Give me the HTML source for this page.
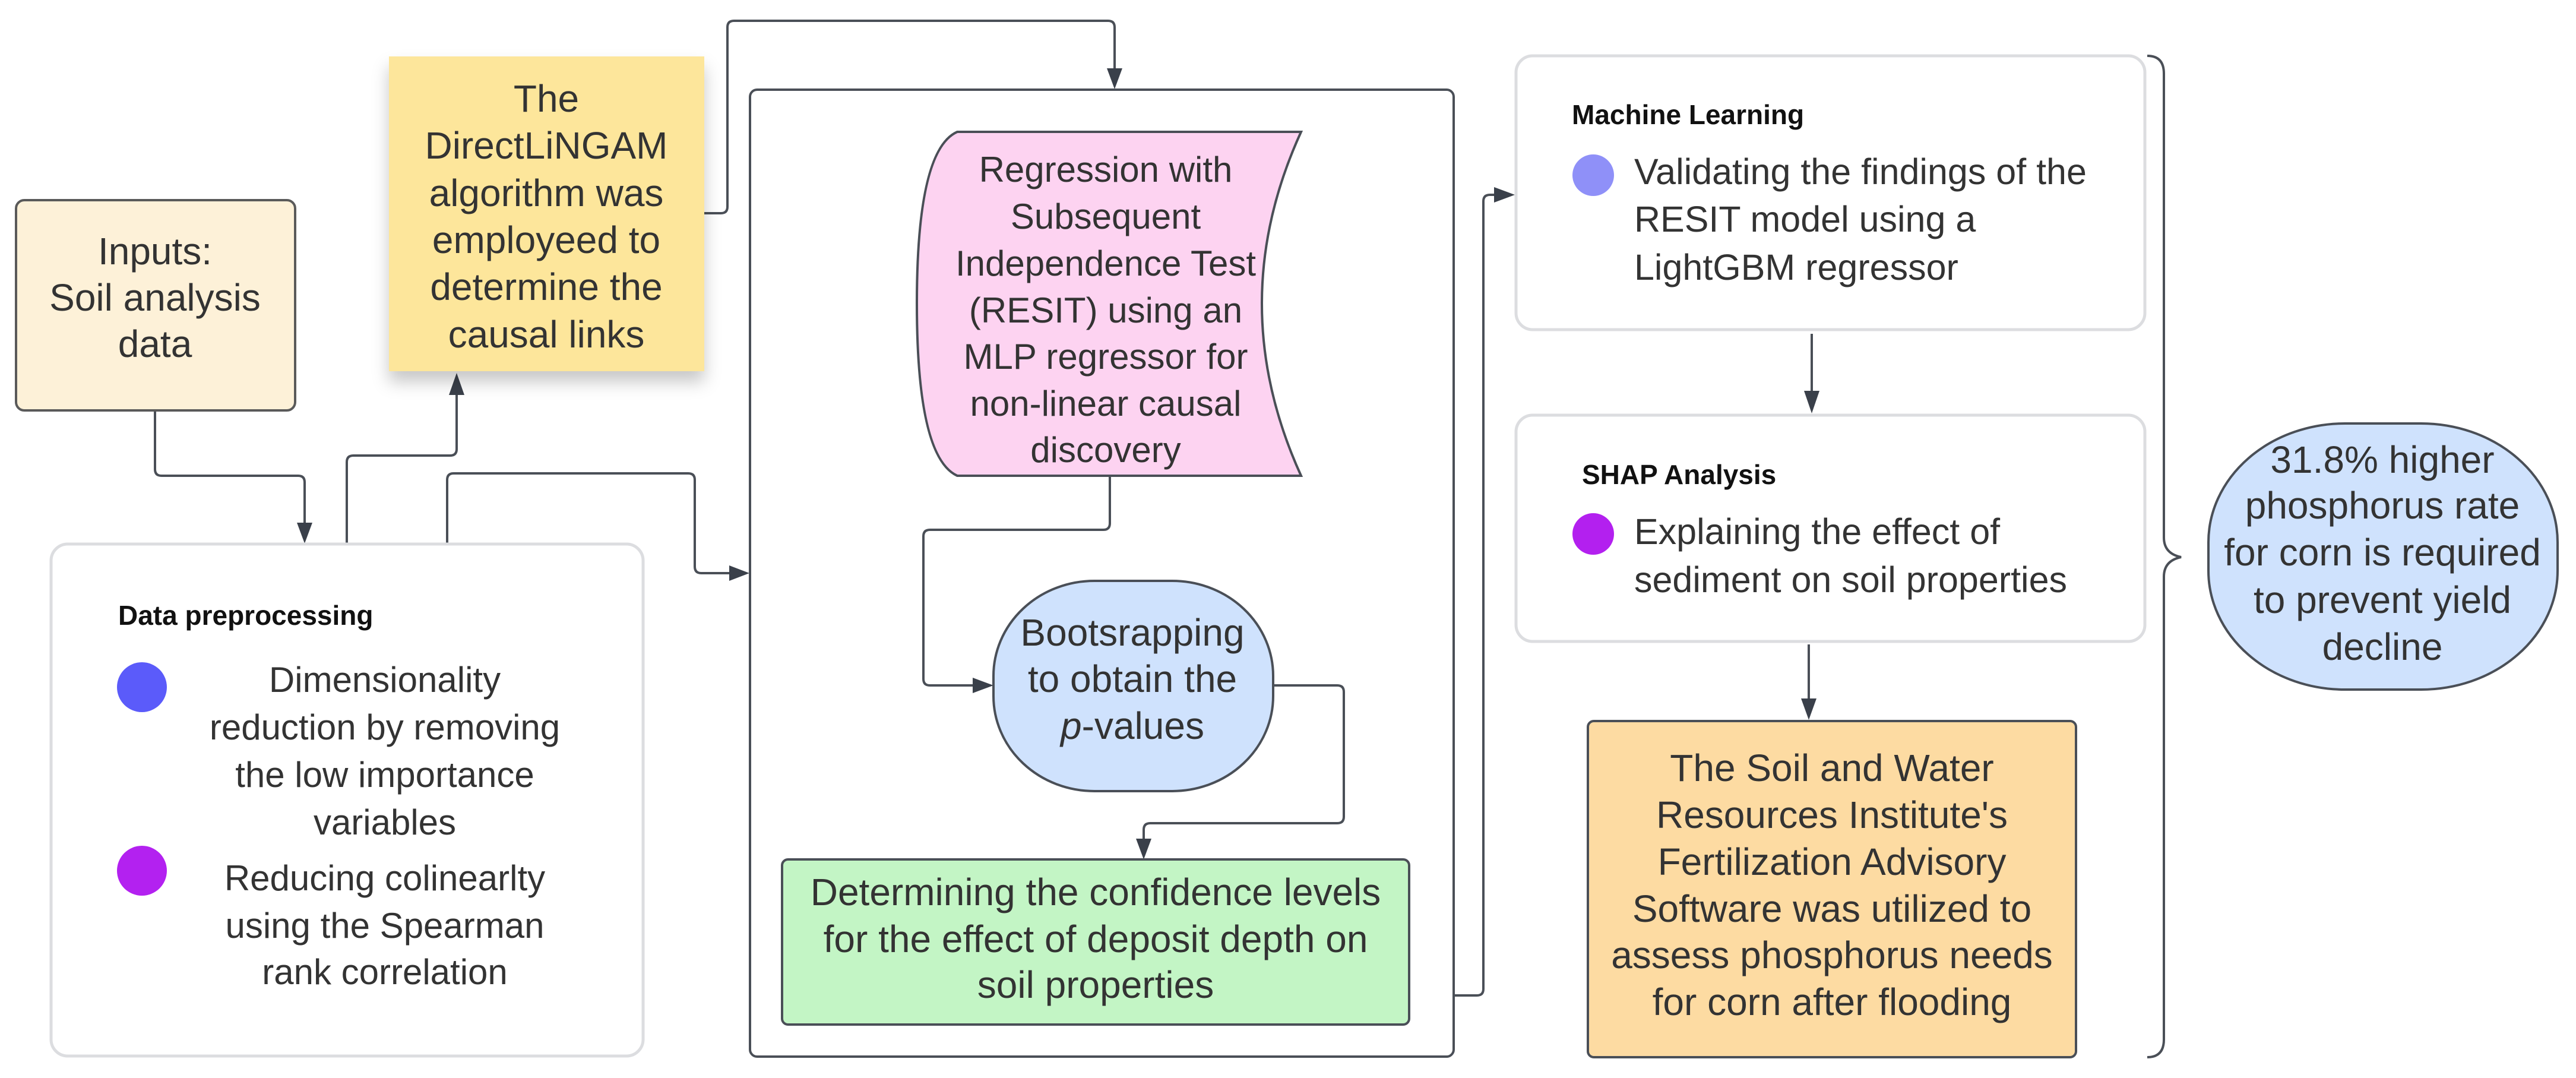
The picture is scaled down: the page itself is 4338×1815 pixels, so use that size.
<!DOCTYPE html>
<html><head><meta charset="utf-8"><style>
html,body{margin:0;padding:0;background:#fff;}
svg{display:block;}
text{font-family:"Liberation Sans",Arial,sans-serif;fill:#333;}
</style></head><body>
<svg width="4338" height="1815" viewBox="0 0 4338 1815" xmlns="http://www.w3.org/2000/svg">
<defs>
<filter id="sh" x="-20%" y="-20%" width="140%" height="150%"><feDropShadow dx="0" dy="18" stdDeviation="14" flood-color="#000" flood-opacity="0.22"/></filter>
</defs>
<g fill="none" stroke="#4a4f57" stroke-width="4" stroke-linejoin="round">
<path d="M261 691 V790 Q261 801 272 801 H502 Q513 801 513 812 V880"/>
<path d="M584 915 V778 Q584 767 595 767 H758 Q769 767 769 756 V665"/>
<path d="M753 915 V808 Q753 797 764 797 H1159 Q1170 797 1170 808 V954 Q1170 965 1181 965 H1228"/>
<path d="M1186 359 H1214 Q1225 359 1225 348 V46 Q1225 35 1236 35 H1866 Q1877 35 1877 46 V115"/>
<path d="M1869 801 V881 Q1869 892 1858 892 H1566 Q1555 892 1555 903 V1143 Q1555 1154 1566 1154 H1638"/>
<path d="M2144 1154 H2252 Q2263 1154 2263 1165 V1375 Q2263 1386 2252 1386 H1937 Q1926 1386 1926 1397 V1412"/>
<path d="M2448 1676 H2487 Q2498 1676 2498 1665 V339 Q2498 328 2509 328 H2516"/>
<path d="M3051 562 V660"/>
<path d="M3046 1085 V1176"/>
</g>
<g fill="#3a404a">
<polygon points="500,880 526,880 513,915"/>
<polygon points="756,665 782,665 769,628"/>
<polygon points="1228,952 1228,978 1262,965"/>
<polygon points="1864,115 1890,115 1877,150"/>
<polygon points="1638,1141 1638,1167 1673,1154"/>
<polygon points="1913,1412 1939,1412 1926,1447"/>
<polygon points="2516,315 2516,341 2551,328"/>
<polygon points="3038,658 3064,658 3051,696"/>
<polygon points="3033,1176 3059,1176 3046,1212"/>
</g>

<rect x="27" y="337" width="470" height="354" rx="14" fill="#fdf1d8" stroke="#5a5a5a" stroke-width="4"/>
<g font-size="64" text-anchor="middle">
<text x="261" y="445">Inputs:</text>
<text x="261" y="523">Soil analysis</text>
<text x="261" y="601">data</text>
</g>

<rect x="655" y="95" width="531" height="530" fill="#fde69b" filter="url(#sh)"/>
<g font-size="64" text-anchor="middle">
<text x="920" y="188">The</text>
<text x="920" y="267">DirectLiNGAM</text>
<text x="920" y="347">algorithm was</text>
<text x="920" y="426">employeed to</text>
<text x="920" y="505">determine the</text>
<text x="920" y="585">causal links</text>
</g>

<rect x="86" y="916" width="997" height="862" rx="28" fill="#fff" stroke="#dcdde0" stroke-width="5"/>
<text x="199" y="1052" font-size="46" font-weight="bold" style="fill:#111">Data preprocessing</text>
<circle cx="239" cy="1157" r="42" fill="#5b5bfa"/>
<circle cx="239" cy="1466" r="42" fill="#b321f0"/>
<g font-size="60" text-anchor="middle">
<text x="648" y="1165">Dimensionality</text>
<text x="648" y="1245">reduction by removing</text>
<text x="648" y="1325">the low importance</text>
<text x="648" y="1405">variables</text>
<text x="648" y="1499">Reducing colinearlty</text>
<text x="648" y="1579">using the Spearman</text>
<text x="648" y="1657">rank correlation</text>
</g>

<rect x="1263" y="151" width="1185" height="1628" rx="12" fill="none" stroke="#4a4f57" stroke-width="4"/>

<path d="M1612 222 H2191 Q2059 511 2191 801 H1612 Q1544 770 1544 511 Q1544 252 1612 222 Z" fill="#fdd3f1" stroke="#4a4f57" stroke-width="4"/>
<g font-size="60" text-anchor="middle">
<text x="1862" y="306">Regression with</text>
<text x="1862" y="385">Subsequent</text>
<text x="1862" y="464">Independence Test</text>
<text x="1862" y="543">(RESIT) using an</text>
<text x="1862" y="621">MLP regressor for</text>
<text x="1862" y="700">non-linear causal</text>
<text x="1862" y="778">discovery</text>
</g>

<rect x="1673" y="978" width="471" height="354" rx="170" ry="160" fill="#cfe2fd" stroke="#4a4f57" stroke-width="4"/>
<g font-size="64" text-anchor="middle">
<text x="1907" y="1087">Bootsrapping</text>
<text x="1907" y="1165">to obtain the</text>
<text x="1907" y="1244"><tspan font-style="italic">p</tspan>-values</text>
</g>

<rect x="1317" y="1447" width="1056" height="278" rx="10" fill="#c3f5c5" stroke="#4a4f57" stroke-width="4"/>
<g font-size="64" text-anchor="middle">
<text x="1845" y="1524">Determining the confidence levels</text>
<text x="1845" y="1603">for the effect of deposit depth on</text>
<text x="1845" y="1680">soil properties</text>
</g>

<rect x="2553" y="94" width="1059" height="461" rx="28" fill="#fff" stroke="#dcdde0" stroke-width="5"/>
<text x="2647" y="209" font-size="46" font-weight="bold" style="fill:#111">Machine Learning</text>
<circle cx="2683" cy="295" r="35" fill="#8f90f8"/>
<g font-size="61">
<text x="2752" y="310">Validating the findings of the</text>
<text x="2752" y="390">RESIT model using a</text>
<text x="2752" y="471">LightGBM regressor</text>
</g>

<rect x="2553" y="699" width="1059" height="381" rx="28" fill="#fff" stroke="#dcdde0" stroke-width="5"/>
<text x="2664" y="815" font-size="46" font-weight="bold" style="fill:#111">SHAP Analysis</text>
<circle cx="2683" cy="899" r="35" fill="#b320ef"/>
<g font-size="61">
<text x="2752" y="916">Explaining the effect of</text>
<text x="2752" y="997">sediment on soil properties</text>
</g>

<rect x="2674" y="1214" width="822" height="566" rx="10" fill="#fddba2" stroke="#4a4f57" stroke-width="4"/>
<g font-size="64" text-anchor="middle">
<text x="3085" y="1315">The Soil and Water</text>
<text x="3085" y="1394">Resources Institute's</text>
<text x="3085" y="1473">Fertilization Advisory</text>
<text x="3085" y="1552">Software was utilized to</text>
<text x="3085" y="1630">assess phosphorus needs</text>
<text x="3085" y="1709">for corn after flooding</text>
</g>

<path d="M3616 94 Q3644 94 3644 124 V905 Q3644 932 3673 938 Q3644 944 3644 971 V1750 Q3644 1780 3616 1780" fill="none" stroke="#4a4f57" stroke-width="4"/>

<rect x="3719" y="713" width="588" height="448" rx="230" ry="200" fill="#cfe2fd" stroke="#4a4f57" stroke-width="4"/>
<g font-size="64" text-anchor="middle">
<text x="4012" y="796">31.8% higher</text>
<text x="4012" y="873">phosphorus rate</text>
<text x="4012" y="952">for corn is required</text>
<text x="4012" y="1032">to prevent yield</text>
<text x="4012" y="1111">decline</text>
</g>
</svg>
</body></html>
